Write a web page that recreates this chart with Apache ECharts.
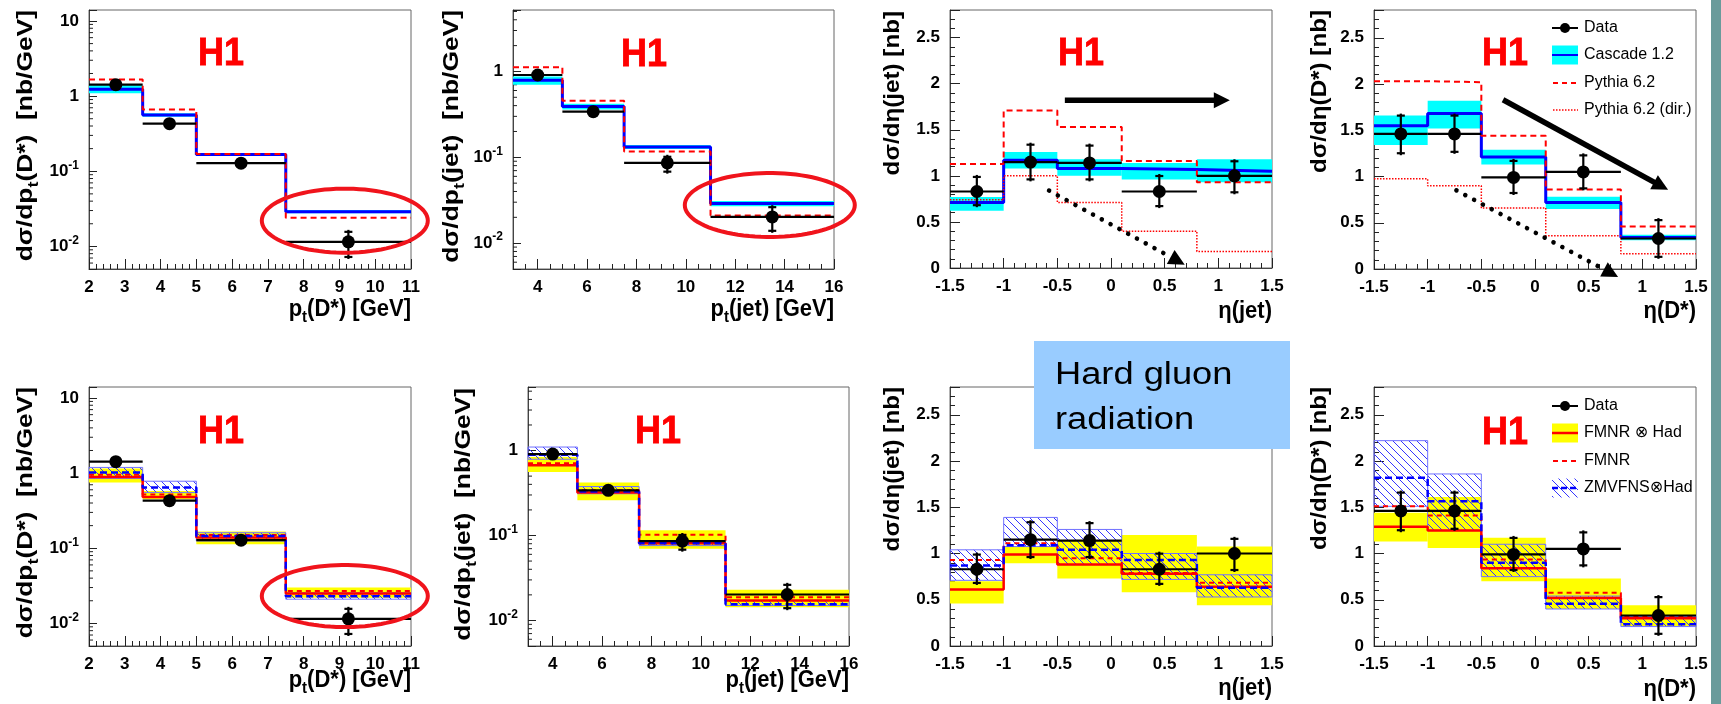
<!DOCTYPE html>
<html><head><meta charset="utf-8">
<script src="https://cdn.jsdelivr.net/npm/echarts@6/dist/echarts.min.js"></script>
<style>html,body{margin:0;padding:0;background:#fff}#c{width:1721px;height:704px}</style>
</head><body><div id="c"></div>
<script>
// ---------------- binning ----------------
const ptDEdges = [2, 3.5, 5, 7.5, 11];
const ptDCentres = [2.75, 4.25, 6.25, 9.25];
const ptJetEdges = [3, 5, 7.5, 11, 16];
const ptJetCentres = [4, 6.25, 9.25, 13.5];
const etaEdges = [-1.5, -1, -0.5, 0.1, 0.8, 1.5];
const etaCentres = [-1.25, -0.75, -0.2, 0.45, 1.15];

// ---------------- H1 data ----------------
const dataPtD = [1.42, 0.43, 0.128, 0.0115];
const dataPtDLo = [1.30, 0.40, 0.118, 0.0068];
const dataPtDHi = [1.55, 0.46, 0.139, 0.0166];
const dataPtJet = [0.91, 0.34, 0.086, 0.0202];
const dataPtJetLo = [0.84, 0.30, 0.0645, 0.0132];
const dataPtJetHi = [0.98, 0.38, 0.107, 0.0277];
const dataEtaJet = [0.83, 1.15, 1.14, 0.83, 1.0];
const dataEtaJetLo = [0.66, 0.94, 0.94, 0.65, 0.80];
const dataEtaJetHi = [1.01, 1.36, 1.35, 1.02, 1.18];
const dataEtaD = [1.46, 1.46, 0.99, 1.05, 0.33];
const dataEtaDLo = [1.23, 1.245, 0.80, 0.85, 0.11];
const dataEtaDHi = [1.68, 1.68, 1.19, 1.25, 0.55];

// ---------------- Cascade 1.2 ----------------
const cascadePtD = [1.23, 0.56, 0.167, 0.029];
const cascadePtDLo = [1.09, 0.53, 0.159, 0.0275];
const cascadePtDHi = [1.39, 0.59, 0.175, 0.0305];
const cascadePtJet = [0.79, 0.39, 0.132, 0.029];
const cascadePtJetLo = [0.70, 0.36, 0.125, 0.027];
const cascadePtJetHi = [0.875, 0.42, 0.139, 0.031];
const cascadeEtaJet = [0.71, 1.17, 1.08, 1.07, 1.05];
const cascadeEtaJetLo = [0.62, 1.08, 1.00, 0.96, 0.93];
const cascadeEtaJetHi = [0.77, 1.26, 1.18, 1.14, 1.18];
const cascadeEtaD = [1.55, 1.68, 1.21, 0.72, 0.34];
const cascadeEtaDLo = [1.34, 1.52, 1.13, 0.65, 0.31];
const cascadeEtaDHi = [1.66, 1.82, 1.29, 0.78, 0.37];

// ---------------- Pythia 6.2 ----------------
const pythiaPtD = [1.67, 0.665, 0.17, 0.024];
const pythiaPtJet = [1.12, 0.457, 0.117, 0.021];
const pythiaEtaJet = [1.13, 1.71, 1.53, 1.16, 0.93];
const pythiaEtaD = [2.03, 2.02, 1.44, 0.86, 0.46];
const pythiaDirEtaJet = [0.74, 1.0, 0.71, 0.40, 0.18];
const pythiaDirEtaD = [0.975, 0.90, 0.66, 0.36, 0.165];

// ---------------- FMNR (x) Had ----------------
const fmnrHadPtD = [0.89, 0.48, 0.139, 0.025];
const fmnrHadPtDLo = [0.75, 0.45, 0.113, 0.022];
const fmnrHadPtDHi = [1.15, 0.58, 0.167, 0.030];
const fmnrHadPtJet = [0.67, 0.32, 0.081, 0.0172];
const fmnrHadPtJetLo = [0.56, 0.26, 0.070, 0.0143];
const fmnrHadPtJetHi = [0.84, 0.42, 0.115, 0.023];
const fmnrHadEtaJet = [0.61, 0.99, 0.88, 0.78, 0.64];
const fmnrHadEtaJetLo = [0.46, 0.895, 0.73, 0.58, 0.44];
const fmnrHadEtaJetHi = [0.70, 1.075, 1.14, 1.20, 1.075];
const fmnrHadEtaD = [1.29, 1.25, 0.84, 0.52, 0.30];
const fmnrHadEtaDLo = [1.13, 1.06, 0.70, 0.40, 0.215];
const fmnrHadEtaDHi = [1.44, 1.61, 1.17, 0.73, 0.44];

// ---------------- FMNR ----------------
const fmnrPtD = [0.95, 0.52, 0.15, 0.027];
const fmnrPtJet = [0.71, 0.34, 0.102, 0.0188];
const fmnrEtaJet = [0.93, 1.11, 0.95, 0.79, 0.685];
const fmnrEtaD = [1.51, 1.41, 0.935, 0.576, 0.325];

// ---------------- ZMVFNS (x) Had ----------------
const zmvPtD = [1.02, 0.645, 0.145, 0.023];
const zmvPtDLo = [0.85, 0.55, 0.125, 0.021];
const zmvPtDHi = [1.19, 0.78, 0.161, 0.0255];
const zmvPtJet = [0.89, 0.33, 0.081, 0.0155];
const zmvPtJetLo = [0.79, 0.31, 0.076, 0.0150];
const zmvPtJetHi = [1.10, 0.377, 0.087, 0.0172];
const zmvEtaJet = [0.87, 1.09, 1.04, 0.93, 0.63];
const zmvEtaJetLo = [0.71, 1.075, 0.88, 0.72, 0.53];
const zmvEtaJetHi = [1.04, 1.39, 1.26, 1.00, 0.77];
const zmvEtaD = [1.82, 1.565, 0.90, 0.457, 0.234];
const zmvEtaDLo = [1.51, 1.25, 0.75, 0.40, 0.21];
const zmvEtaDHi = [2.22, 1.86, 1.10, 0.54, 0.32];

// ---------------- texts ----------------
const legendTop = ['Data', 'Cascade 1.2', 'Pythia 6.2', 'Pythia 6.2 (dir.)'];
const legendBottom = ['Data', 'FMNR \u2297 Had', 'FMNR', 'ZMVFNS\u2297Had'];

// ================== styling / layout ==================
const FONT = '"Liberation Sans", Arial, Helvetica, "DejaVu Sans", sans-serif';
const RED = '#ff0000', BLUE = '#0000ff', CYAN = '#00ffff', YELLOW = '#ffff00';

function makeHatch() {
  const c = document.createElement('canvas');
  c.width = 8; c.height = 8;
  const g = c.getContext('2d');
  g.strokeStyle = '#3535ff'; g.lineWidth = 1;
  g.beginPath();
  g.moveTo(0, 0); g.lineTo(8, 8);
  g.moveTo(-2, 6); g.lineTo(2, 10);
  g.moveTo(6, -2); g.lineTo(10, 2);
  g.stroke();
  return c;
}
const HATCH = { image: makeHatch(), repeat: 'repeat' };

const xPtD = { min: 2, max: 11, interval: 1, minor: 5 };
const xPtJet = { min: 3, max: 16, splitNumber: 6, minor: 4, even: true };
const xEta = { min: -1.5, max: 1.5, interval: 0.5, minor: 5 };
const yEta = { min: 0, max: 2.8, interval: 0.5, minor: 5 };

const panels = [
  { grid: { left: 89, top: 10, width: 322, height: 259 }, x: xPtD, y: { log: true, min: 0.005, max: 14 } },
  { grid: { left: 513, top: 10, width: 321, height: 259 }, x: xPtJet, y: { log: true, min: 0.005, max: 5.2 } },
  { grid: { left: 950, top: 10, width: 322, height: 258 }, x: xEta, y: yEta },
  { grid: { left: 1374, top: 10, width: 322, height: 259 }, x: xEta, y: yEta },
  { grid: { left: 89, top: 387, width: 322, height: 259 }, x: xPtD, y: { log: true, min: 0.005, max: 14 } },
  { grid: { left: 528, top: 387, width: 321, height: 259 }, x: xPtJet, y: { log: true, min: 0.005, max: 5.6 } },
  { grid: { left: 950, top: 387, width: 322, height: 259 }, x: xEta, y: yEta },
  { grid: { left: 1374, top: 387, width: 322, height: 259 }, x: xEta, y: yEta }
];

function logLabel(v) {
  const e = Math.log10(v), r = Math.round(e);
  if (Math.abs(e - r) > 1e-6) return '';
  if (r === 0) return '1';
  if (r === 1) return '10';
  return '{n|10}{s|' + r + '}';
}

const grids = [], xAxes = [], yAxes = [], series = [];
panels.forEach((p, i) => {
  grids.push(Object.assign({ show: true, borderColor: '#666', borderWidth: 1, backgroundColor: 'transparent' }, p.grid));
  const x = {
    gridIndex: i, type: 'value', min: p.x.min, max: p.x.max,
    axisLine: { show: true, onZero: false, lineStyle: { color: '#444', width: 1 } },
    axisTick: { show: true, inside: true, length: 10, lineStyle: { color: '#222', width: 1 } },
    minorTick: { show: true, splitNumber: p.x.minor, length: 5, lineStyle: { color: '#222', width: 1 } },
    splitLine: { show: false }, minorSplitLine: { show: false },
    axisLabel: { color: '#000', fontFamily: FONT, fontWeight: 'bold', fontSize: 17, margin: 10, showMinLabel: true, showMaxLabel: true,
      formatter: p.x.even ? (v => (Math.abs(v % 2) < 1e-9 ? String(v) : '')) : (v => String(v)) }
  };
  if (p.x.interval) x.interval = p.x.interval; else x.splitNumber = p.x.splitNumber;
  xAxes.push(x);
  if (p.y.log) {
    yAxes.push({
      gridIndex: i, type: 'log', logBase: 10, min: p.y.min, max: p.y.max,
      axisLine: { show: true, onZero: false, lineStyle: { color: '#444', width: 1 } },
      axisTick: { show: true, inside: true, length: 8, lineStyle: { color: '#222' } },
      splitLine: { show: false },
      axisLabel: { color: '#000', fontFamily: FONT, fontWeight: 'bold', fontSize: 17, margin: 10, showMinLabel: true, showMaxLabel: true,
        formatter: logLabel,
        rich: { n: { fontFamily: FONT, fontWeight: 'bold', fontSize: 17, lineHeight: 24, color: '#000' },
                s: { fontFamily: FONT, fontWeight: 'bold', fontSize: 12, lineHeight: 12, color: '#000', verticalAlign: 'top' } } }
    });
    // log minor ticks at 2..9 x 10^k (axis decoration)
    const mt = [];
    for (let k = -3; k <= 1; k++) for (let m = 2; m <= 9; m++) {
      const v = m * Math.pow(10, k);
      if (v > p.y.min && v < p.y.max) mt.push([p.x.min, v]);
    }
    series.push({
      type: 'custom', xAxisIndex: i, yAxisIndex: i, silent: true, clip: false, z: 1,
      encode: { x: 0, y: 1 }, data: mt,
      renderItem: (params, api) => {
        const y = api.coord([api.value(0), api.value(1)])[1];
        const x0 = params.coordSys.x;
        return { type: 'line', shape: { x1: x0, y1: y, x2: x0 + 4, y2: y }, style: { stroke: '#222', lineWidth: 1 } };
      }
    });
  } else {
    yAxes.push({
      gridIndex: i, type: 'value', min: p.y.min, max: p.y.max, interval: p.y.interval,
      axisLine: { show: true, onZero: false, lineStyle: { color: '#444', width: 1 } },
      axisTick: { show: true, inside: true, length: 10, lineStyle: { color: '#222' } },
      minorTick: { show: true, splitNumber: p.y.minor, length: 5, lineStyle: { color: '#222' } },
      splitLine: { show: false }, minorSplitLine: { show: false },
      axisLabel: { color: '#000', fontFamily: FONT, fontWeight: 'bold', fontSize: 17, margin: 10, showMinLabel: true, showMaxLabel: true,
        formatter: v => (Math.abs(v / 0.5 - Math.round(v / 0.5)) < 1e-6 ? String(v) : '') }
    });
  }
});

// ---------- series builders ----------
function band(pi, edges, lo, hi, fill, stroke, z) {
  series.push({
    type: 'custom', xAxisIndex: pi, yAxisIndex: pi, silent: true, z: z || 2,
    encode: { x: [0, 1], y: [2, 3] },
    data: lo.map((l, i) => [edges[i], edges[i + 1], l, hi[i]]),
    renderItem: (params, api) => {
      const a = api.coord([api.value(0), api.value(3)]);
      const b = api.coord([api.value(1), api.value(2)]);
      return { type: 'rect', shape: { x: a[0], y: a[1], width: b[0] - a[0], height: b[1] - a[1] },
        style: { fill: fill, stroke: stroke || null, lineWidth: stroke ? 1 : 0 } };
    }
  });
}
function step(pi, edges, vals, color, width, dash, z) {
  const d = vals.map((v, i) => [edges[i], v]);
  d.push([edges[edges.length - 1], vals[vals.length - 1]]);
  series.push({
    type: 'line', xAxisIndex: pi, yAxisIndex: pi, step: 'end', symbol: 'none', silent: true, z: z || 4,
    data: d, lineStyle: { color: color, width: width, type: dash || 'solid' }
  });
}
function points(pi, edges, centres, vals, lo, hi) {
  series.push({
    type: 'custom', xAxisIndex: pi, yAxisIndex: pi, silent: true, z: 10, clip: false,
    encode: { x: [0, 4, 5], y: [1, 2, 3] },
    data: vals.map((v, i) => [centres[i], v, lo[i], hi[i], edges[i], edges[i + 1]]),
    renderItem: (params, api) => {
      const c = api.coord([api.value(0), api.value(1)]);
      const l = api.coord([api.value(4), api.value(1)]);
      const r = api.coord([api.value(5), api.value(1)]);
      const t = api.coord([api.value(0), api.value(3)]);
      const b = api.coord([api.value(0), api.value(2)]);
      const st = { stroke: '#000', lineWidth: 2.2 };
      return { type: 'group', children: [
        { type: 'line', shape: { x1: l[0], y1: l[1], x2: r[0], y2: r[1] }, style: st },
        { type: 'line', shape: { x1: c[0], y1: t[1], x2: c[0], y2: b[1] }, style: st },
        { type: 'line', shape: { x1: c[0] - 4, y1: t[1] + 2, x2: c[0] + 4, y2: t[1] + 2 }, style: st },
        { type: 'line', shape: { x1: c[0] - 4, y1: b[1] - 2, x2: c[0] + 4, y2: b[1] - 2 }, style: st },
        { type: 'circle', shape: { cx: c[0], cy: c[1], r: 6.5 }, style: { fill: '#000' } }
      ] };
    }
  });
}

// ---------- top row: Cascade / Pythia ----------
band(0, ptDEdges, cascadePtDLo, cascadePtDHi, CYAN);
step(0, ptDEdges, cascadePtD, BLUE, 3);
step(0, ptDEdges, pythiaPtD, RED, 2, [6, 4], 5);
points(0, ptDEdges, ptDCentres, dataPtD, dataPtDLo, dataPtDHi);

band(1, ptJetEdges, cascadePtJetLo, cascadePtJetHi, CYAN);
step(1, ptJetEdges, cascadePtJet, BLUE, 3);
step(1, ptJetEdges, pythiaPtJet, RED, 2, [6, 4], 5);
points(1, ptJetEdges, ptJetCentres, dataPtJet, dataPtJetLo, dataPtJetHi);

band(2, etaEdges, cascadeEtaJetLo, cascadeEtaJetHi, CYAN);
step(2, etaEdges, cascadeEtaJet, BLUE, 3);
step(2, etaEdges, pythiaEtaJet, RED, 2, [6, 4], 5);
step(2, etaEdges, pythiaDirEtaJet, RED, 1.5, [1.5, 1.5], 5);
points(2, etaEdges, etaCentres, dataEtaJet, dataEtaJetLo, dataEtaJetHi);

band(3, etaEdges, cascadeEtaDLo, cascadeEtaDHi, CYAN);
step(3, etaEdges, cascadeEtaD, BLUE, 3);
step(3, etaEdges, pythiaEtaD, RED, 2, [6, 4], 5);
step(3, etaEdges, pythiaDirEtaD, RED, 1.5, [1.5, 1.5], 5);
points(3, etaEdges, etaCentres, dataEtaD, dataEtaDLo, dataEtaDHi);

// ---------- bottom row: NLO ----------
function nlo(pi, edges, centres, fh, fhLo, fhHi, f, z, zLo, zHi, d, dLo, dHi) {
  band(pi, edges, fhLo, fhHi, YELLOW, null, 2);
  band(pi, edges, zLo, zHi, HATCH, '#7070ff', 3);
  step(pi, edges, fh, RED, 2.5, 'solid', 4);
  step(pi, edges, f, RED, 2, [5, 4], 5);
  step(pi, edges, z, BLUE, 2.5, [7, 4], 6);
  points(pi, edges, centres, d, dLo, dHi);
}
nlo(4, ptDEdges, ptDCentres, fmnrHadPtD, fmnrHadPtDLo, fmnrHadPtDHi, fmnrPtD, zmvPtD, zmvPtDLo, zmvPtDHi, dataPtD, dataPtDLo, dataPtDHi);
nlo(5, ptJetEdges, ptJetCentres, fmnrHadPtJet, fmnrHadPtJetLo, fmnrHadPtJetHi, fmnrPtJet, zmvPtJet, zmvPtJetLo, zmvPtJetHi, dataPtJet, dataPtJetLo, dataPtJetHi);
nlo(6, etaEdges, etaCentres, fmnrHadEtaJet, fmnrHadEtaJetLo, fmnrHadEtaJetHi, fmnrEtaJet, zmvEtaJet, zmvEtaJetLo, zmvEtaJetHi, dataEtaJet, dataEtaJetLo, dataEtaJetHi);
nlo(7, etaEdges, etaCentres, fmnrHadEtaD, fmnrHadEtaDLo, fmnrHadEtaDHi, fmnrEtaD, zmvEtaD, zmvEtaDLo, zmvEtaDHi, dataEtaD, dataEtaDLo, dataEtaDHi);

// ---------- annotations (placed in data coordinates) ----------
const ellipses = [
  { panel: 0, centre: [9.15, 0.022], rx: 83, ry: 32 },
  { panel: 1, centre: [13.4, 0.0278], rx: 85, ry: 32 },
  { panel: 4, centre: [9.15, 0.0231], rx: 83, ry: 31 }
];
const arrows = [
  { panel: 2, from: [-0.43, 1.82], to: [1.107, 1.82], dotted: false },
  { panel: 2, from: [-0.577, 0.84], to: [0.687, 0.036], dotted: true },
  { panel: 3, from: [-0.298, 1.83], to: [1.24, 0.856], dotted: false },
  { panel: 3, from: [-0.732, 0.85], to: [0.774, -0.086], dotted: true }
];
ellipses.forEach(e => {
  series.push({
    type: 'custom', xAxisIndex: e.panel, yAxisIndex: e.panel, silent: true, clip: false, z: 20,
    encode: { x: 0, y: 1 }, data: [e.centre],
    renderItem: (params, api) => {
      const c = api.coord([api.value(0), api.value(1)]);
      const pts = [];
      for (let k = 0; k < 90; k++) { const a = k / 90 * Math.PI * 2; pts.push([c[0] + e.rx * Math.cos(a), c[1] + e.ry * Math.sin(a)]); }
      return { type: 'polygon', shape: { points: pts }, style: { fill: null, stroke: '#f0141c', lineWidth: 4 } };
    }
  });
});
arrows.forEach(a => {
  series.push({
    type: 'custom', xAxisIndex: a.panel, yAxisIndex: a.panel, silent: true, clip: false, z: 20,
    encode: { x: [0, 2], y: [1, 3] }, data: [[a.from[0], a.from[1], a.to[0], a.to[1]]],
    renderItem: (params, api) => {
      const p0 = api.coord([api.value(0), api.value(1)]);
      const p1 = api.coord([api.value(2), api.value(3)]);
      const dx = p1[0] - p0[0], dy = p1[1] - p0[1], L = Math.hypot(dx, dy);
      const ux = dx / L, uy = dy / L, nx = -uy, ny = ux;
      const hl = 16, hw = 8;
      const bx = p1[0] - ux * hl, by = p1[1] - uy * hl;
      const shaft = a.dotted
        ? { type: 'line', shape: { x1: p0[0], y1: p0[1], x2: bx, y2: by }, style: { stroke: '#000', lineWidth: 4.6, lineCap: 'round', lineDash: [0.01, 10] } }
        : { type: 'line', shape: { x1: p0[0], y1: p0[1], x2: bx + ux * 2, y2: by + uy * 2 }, style: { stroke: '#000', lineWidth: 5.5 } };
      return { type: 'group', children: [shaft,
        { type: 'polygon', shape: { points: [[p1[0], p1[1]], [bx + nx * hw, by + ny * hw], [bx - nx * hw, by - ny * hw]] }, style: { fill: '#000' } }] };
    }
  });
});

// ---------- graphic: titles, H1, legends, box ----------
const G = [];
const titleRich = { t: { fontFamily: FONT, fontWeight: 'bold', fontSize: 15, lineHeight: 15, verticalAlign: 'bottom', fill: '#000', color: '#000' } };
function yTitle(text, x, y, sc) {
  G.push({ type: 'text', x: x, y: y, rotation: Math.PI / 2, scaleX: sc, z: 50,
    style: { text: text, fontFamily: FONT, fontWeight: 'bold', fontSize: 22, lineHeight: 30, fill: '#000', align: 'right', verticalAlign: 'middle', rich: titleRich } });
}
function xTitle(text, x, y) {
  G.push({ type: 'text', x: x, y: y, scaleY: 1.12, z: 50,
    style: { text: text, fontFamily: FONT, fontWeight: 'bold', fontSize: 22, lineHeight: 30, fill: '#000', align: 'right', verticalAlign: 'middle', rich: titleRich } });
}
function h1(x, y) {
  G.push({ type: 'text', x: x, y: y, scaleY: 1.1, z: 40,
    style: { text: 'H1', fontFamily: FONT, fontWeight: 'bold', fontSize: 36, fill: RED, stroke: RED, lineWidth: 0.8, align: 'center', verticalAlign: 'middle' } });
}
const YS = 1.2, YE = 1.1;
yTitle('d\u03c3/dp{t|t}(D*)  [nb/GeV]', 26, 10, YS);
yTitle('d\u03c3/dp{t|t}(jet)  [nb/GeV]', 452, 10, YS);
yTitle('d\u03c3/d\u03b7(jet) [nb]', 893, 11, YE);
yTitle('d\u03c3/d\u03b7(D*) [nb]', 1320, 10, YE);
yTitle('d\u03c3/dp{t|t}(D*)  [nb/GeV]', 26, 387, YS);
yTitle('d\u03c3/dp{t|t}(jet)  [nb/GeV]', 464, 388, YS);
yTitle('d\u03c3/d\u03b7(jet) [nb]', 893, 387, YE);
yTitle('d\u03c3/d\u03b7(D*) [nb]', 1320, 387, YE);
xTitle('p{t|t}(D*) [GeV]', 411, 309);
xTitle('p{t|t}(jet) [GeV]', 834, 309);
xTitle('\u03b7(jet)', 1272, 311);
xTitle('\u03b7(D*)', 1696, 311);
xTitle('p{t|t}(D*) [GeV]', 411, 680);
xTitle('p{t|t}(jet) [GeV]', 849, 680);
xTitle('\u03b7(jet)', 1272, 688);
xTitle('\u03b7(D*)', 1696, 689);
h1(221, 54); h1(644, 55); h1(1081, 54); h1(1505, 54);
h1(221, 432); h1(658, 432); h1(1081, 432); h1(1505, 433);

// legends
function legText(t, y) {
  G.push({ type: 'text', x: 1584, y: y, z: 60, style: { text: t, fontFamily: FONT, fontSize: 16, fill: '#000', align: 'left', verticalAlign: 'middle' } });
}
function legData(y) {
  G.push({ type: 'line', z: 60, shape: { x1: 1552, y1: y, x2: 1578, y2: y }, style: { stroke: '#000', lineWidth: 2 } });
  G.push({ type: 'circle', z: 61, shape: { cx: 1565, cy: y, r: 5 }, style: { fill: '#000' } });
}
const rowsTop = [28, 55, 83, 110];
legData(rowsTop[0]);
G.push({ type: 'rect', z: 60, shape: { x: 1552, y: rowsTop[1] - 9.5, width: 26, height: 19 }, style: { fill: CYAN } });
G.push({ type: 'line', z: 61, shape: { x1: 1552, y1: rowsTop[1], x2: 1578, y2: rowsTop[1] }, style: { stroke: BLUE, lineWidth: 2 } });
G.push({ type: 'line', z: 60, shape: { x1: 1553, y1: rowsTop[2], x2: 1578, y2: rowsTop[2] }, style: { stroke: RED, lineWidth: 2, lineDash: [5, 4] } });
G.push({ type: 'line', z: 60, shape: { x1: 1553, y1: rowsTop[3], x2: 1578, y2: rowsTop[3] }, style: { stroke: RED, lineWidth: 1.5, lineDash: [1.5, 1.5] } });
legendTop.forEach((t, k) => legText(t, rowsTop[k]));

const rowsBot = [406, 433, 461, 488];
legData(rowsBot[0]);
G.push({ type: 'rect', z: 60, shape: { x: 1552, y: rowsBot[1] - 9.5, width: 26, height: 19 }, style: { fill: YELLOW } });
G.push({ type: 'line', z: 61, shape: { x1: 1552, y1: rowsBot[1], x2: 1578, y2: rowsBot[1] }, style: { stroke: RED, lineWidth: 2.5 } });
G.push({ type: 'line', z: 60, shape: { x1: 1553, y1: rowsBot[2], x2: 1578, y2: rowsBot[2] }, style: { stroke: RED, lineWidth: 2, lineDash: [5, 4] } });
G.push({ type: 'rect', z: 60, shape: { x: 1552, y: rowsBot[3] - 9.5, width: 26, height: 19 }, style: { fill: HATCH } });
G.push({ type: 'line', z: 61, shape: { x1: 1552, y1: rowsBot[3], x2: 1578, y2: rowsBot[3] }, style: { stroke: BLUE, lineWidth: 2.5, lineDash: [6, 3] } });
legendBottom.forEach((t, k) => legText(t, rowsBot[k]));

// Hard gluon box
G.push({ type: 'rect', z: 80, shape: { x: 1034, y: 341, width: 256, height: 108 }, style: { fill: '#99ccff' } });
G.push({ type: 'text', x: 1055, y: 375, scaleX: 1.17, z: 81, style: { text: 'Hard gluon', fontFamily: FONT, fontSize: 31, fill: '#000', align: 'left', verticalAlign: 'middle' } });
G.push({ type: 'text', x: 1055, y: 420, scaleX: 1.17, z: 81, style: { text: 'radiation', fontFamily: FONT, fontSize: 31, fill: '#000', align: 'left', verticalAlign: 'middle' } });
// slide edge bar
G.push({ type: 'rect', z: 90, shape: { x: 1711, y: 0, width: 10, height: 704 }, style: { fill: '#6a9b9b' } });

const chart = echarts.init(document.getElementById('c'), null, { renderer: 'canvas' });
chart.setOption({
  animation: false,
  backgroundColor: '#fff',
  grid: grids, xAxis: xAxes, yAxis: yAxes, series: series,
  graphic: { elements: G }
});
</script>
</body></html>
